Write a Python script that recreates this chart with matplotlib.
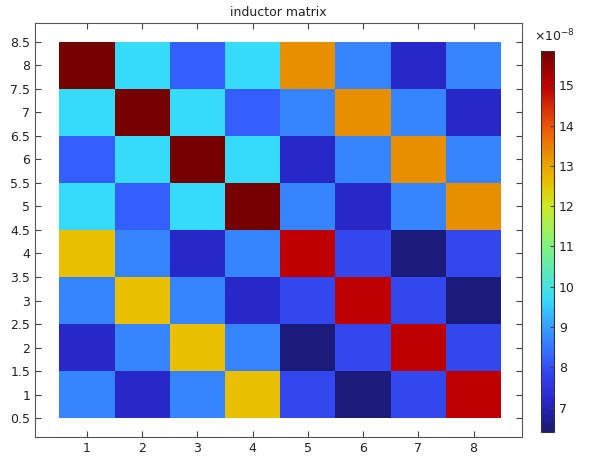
import numpy as np
import matplotlib
matplotlib.use("Agg")
import matplotlib.pyplot as plt
from matplotlib.colors import LinearSegmentedColormap
from matplotlib.ticker import FuncFormatter

# matrix values in units of 1e-8, rows listed from y=1 (bottom) to y=8 (top)
x_labels = [1, 2, 3, 4, 5, 6, 7, 8]
y_labels = [1, 2, 3, 4, 5, 6, 7, 8]
row_y1 = [8.7, 7.2, 8.7, 12.6, 7.9, 6.5, 7.9, 15.0]
row_y2 = [7.2, 8.7, 12.6, 8.7, 6.5, 7.9, 15.0, 7.9]
row_y3 = [8.7, 12.6, 8.7, 7.2, 7.9, 15.0, 7.9, 6.5]
row_y4 = [12.6, 8.7, 7.2, 8.7, 15.0, 7.9, 6.5, 7.9]
row_y5 = [9.7, 8.2, 9.7, 15.8, 8.7, 7.2, 8.7, 13.3]
row_y6 = [8.2, 9.7, 15.8, 9.7, 7.2, 8.7, 13.3, 8.7]
row_y7 = [9.7, 15.8, 9.7, 8.2, 8.7, 13.3, 8.7, 7.2]
row_y8 = [15.8, 9.7, 8.2, 9.7, 13.3, 8.7, 7.2, 8.7]
scale = 1e-8
vmin, vmax = 6.4, 15.85
cbar_ticks = [7, 8, 9, 10, 11, 12, 13, 14, 15]

M = np.array([row_y1, row_y2, row_y3, row_y4, row_y5, row_y6, row_y7, row_y8]) * scale

# rainbow-like colormap
anchors = [
    (0.0, (0.10, 0.10, 0.45)),
    (0.085, (0.16, 0.16, 0.80)),
    (0.159, (0.20, 0.28, 0.94)),
    (0.19, (0.20, 0.38, 1.0)),
    (0.243, (0.21, 0.52, 1.0)),
    (0.349, (0.21, 0.86, 0.98)),
    (0.487, (0.50, 0.96, 0.50)),
    (0.593, (0.80, 0.92, 0.15)),
    (0.656, (0.91, 0.75, 0.0)),
    (0.73, (0.91, 0.56, 0.0)),
    (0.804, (0.92, 0.33, 0.04)),
    (0.91, (0.75, 0.0, 0.0)),
    (1.0, (0.44, 0.0, 0.0)),
]
cmap = LinearSegmentedColormap.from_list("rainbow_light", anchors)

fig = plt.figure(figsize=(6.03, 4.59), dpi=100)
ax = fig.add_axes([0.058, 0.048, 0.808, 0.902])
cax = fig.add_axes([0.897, 0.059, 0.022, 0.83])

xe = np.arange(len(x_labels) + 1) + 0.5
ye = np.arange(len(y_labels) + 1) + 0.5
mesh = ax.pcolormesh(xe, ye, M, cmap=cmap, vmin=vmin * scale, vmax=vmax * scale)

ax.set_xlim(0.06, 8.88)
ax.set_ylim(0.1, 8.9)
ax.set_xticks(x_labels)
ax.set_yticks(np.arange(0.5, 9.0, 0.5))
ax.yaxis.set_major_formatter(FuncFormatter(lambda v, p: f"{v:g}"))
ax.tick_params(direction="in", top=True, right=True, length=4, width=0.8,
               labelsize=9, colors="#444444", labelcolor="#222222")
for s in ax.spines.values():
    s.set_color("#555555")
    s.set_linewidth(0.8)
ax.set_title("inductor matrix", fontsize=9, color="#222222", pad=5)

cb = fig.colorbar(mesh, cax=cax)
cb.set_ticks([t * scale for t in cbar_ticks])
cb.ax.yaxis.set_major_formatter(FuncFormatter(lambda v, p: f"{v / scale:.0f}"))
cb.ax.tick_params(direction="in", length=3, width=0.8, labelsize=9,
                  colors="#444444", labelcolor="#222222")
cb.outline.set_linewidth(0.8)
cb.outline.set_edgecolor("#333333")
fig.text(0.92, 0.903, r"$\times10^{-8}$", fontsize=9, ha="center", va="bottom",
         color="#222222")

fig.savefig("out.png", dpi=100)
